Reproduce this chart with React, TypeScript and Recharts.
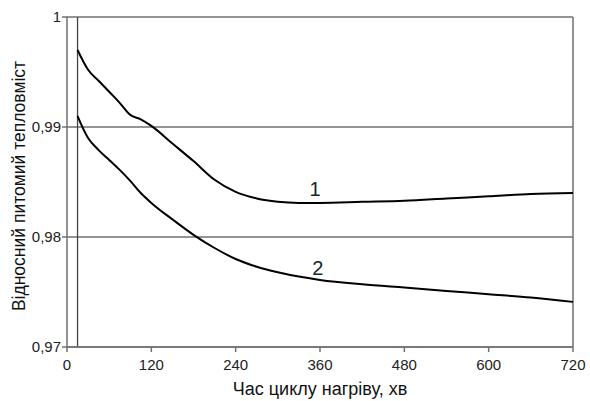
import React from 'react';
import { LineChart, Line, XAxis, YAxis, CartesianGrid, ReferenceLine, ReferenceDot } from 'recharts';

// час циклу нагріву, хв
const minutes = [15, 30, 45, 60, 75, 90, 105, 120, 150, 180, 210, 240, 270, 300, 330, 360, 420, 480, 540, 600, 660, 720];
// крива 1
const curve1 = [0.9970, 0.9952, 0.9942, 0.9932, 0.9922, 0.9911, 0.9907, 0.9901, 0.9885, 0.9869, 0.9852, 0.9841, 0.9835, 0.9832, 0.9831, 0.9831, 0.9832, 0.9833, 0.9835, 0.9837, 0.9839, 0.9840];
// крива 2
const curve2 = [0.9910, 0.9890, 0.9879, 0.9870, 0.9861, 0.9851, 0.9840, 0.9831, 0.9816, 0.9802, 0.9790, 0.9780, 0.9773, 0.9768, 0.9764, 0.9761, 0.9757, 0.9754, 0.9751, 0.9748, 0.9745, 0.9741];

const xTicks = [0, 120, 240, 360, 480, 600, 720];
const yTicks = [0.97, 0.98, 0.99, 1];

const curveLabels = [
  { name: '1', x: 353, y: 0.9844 },
  { name: '2', x: 357, y: 0.9772 },
];

const data = minutes.map((t, i) => ({ t, c1: curve1[i], c2: curve2[i] }));

const FONT = '"Liberation Sans", Arial, sans-serif';
const axisColor = '#707070';

const fmtY = (v: number) => (v === 1 ? '1' : v.toFixed(2).replace('.', ','));

const YTitle = (props: any) => {
  const vb = props.viewBox || {};
  const cy = vb.y + vb.height / 2 + 4;
  return (
    <text
      x={19}
      y={cy}
      transform={`rotate(-90, 19, ${cy})`}
      textAnchor="middle"
      dominantBaseline="central"
      fontFamily={FONT}
      fontSize={17.5}
      fill="#111"
    >
      Відносний питомий тепловміст
    </text>
  );
};

export default function App() {
  return (
    <div style={{ position: 'absolute', left: 0, top: 0, background: '#fff' }}>
      <LineChart width={590} height={401} data={data} margin={{ top: 17, right: 17, left: 0, bottom: 0 }}>
        <CartesianGrid vertical={false} stroke={axisColor} strokeWidth={1.5} />
        <XAxis
          dataKey="t"
          type="number"
          domain={[0, 720]}
          ticks={xTicks}
          height={54}
          tickSize={5}
          tickMargin={7}
          stroke={axisColor}
          strokeWidth={1.5}
          tick={{ fill: '#222', fontSize: 15, fontFamily: FONT }}
          label={{ value: 'Час циклу нагріву, хв', position: 'insideBottom', offset: 6, fill: '#111', fontSize: 18, fontFamily: FONT }}
        />
        <YAxis
          type="number"
          domain={[0.97, 1]}
          ticks={yTicks}
          width={67}
          tickSize={5}
          tickMargin={1}
          stroke={axisColor}
          strokeWidth={1.5}
          tickFormatter={fmtY}
          tick={{ fill: '#222', fontSize: 15, fontFamily: FONT }}
          label={<YTitle />}
        />
        <ReferenceLine x={720} stroke={axisColor} strokeWidth={1.5} />
        <ReferenceLine x={15} stroke="#444" strokeWidth={1.3} />
        <Line type="monotone" dataKey="c1" stroke="#000" strokeWidth={2} dot={false} isAnimationActive={false} />
        <Line type="monotone" dataKey="c2" stroke="#000" strokeWidth={2} dot={false} isAnimationActive={false} />
        {curveLabels.map((l) => (
          <ReferenceDot
            key={l.name}
            x={l.x}
            y={l.y}
            r={0}
            fill="none"
            stroke="none"
            label={{ value: l.name, position: 'center', fill: '#0f2a2a', fontSize: 20, fontFamily: FONT }}
          />
        ))}
      </LineChart>
    </div>
  );
}
